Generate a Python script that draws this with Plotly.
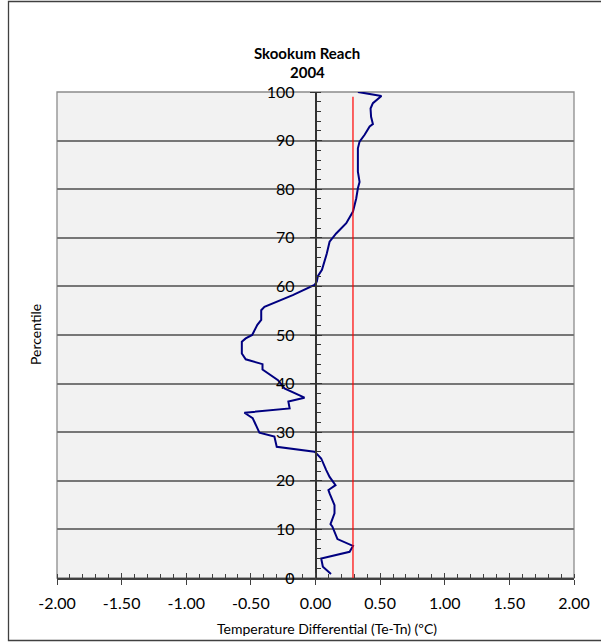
import plotly.graph_objects as go

# Data
percentile = [0.8, 2.3, 4.0, 5.4, 6.6, 8.0, 10.6, 11.1, 13.3, 15.0, 17.4, 18.1, 19.1, 20.8,
              22.2, 23.6, 24.6, 25.7, 26.0, 27.0, 29.1, 29.9, 32.9, 34.0, 34.9, 36.3, 37.1,
              39.0, 40.7, 42.9, 44.0, 45.0, 46.2, 48.6, 49.3, 50.0, 52.1, 53.1, 55.1, 55.8,
              58.2, 60.3, 61.0, 62.1, 63.0, 63.4, 66.8, 69.2, 70.9, 73.0, 75.4, 78.1, 80.2,
              81.5, 83.6, 88.4, 89.8, 91.2, 92.9, 93.4, 94.9, 96.6, 97.7, 99.2, 100.0]
temp_diff = [0.12, 0.057, 0.044, 0.264, 0.29, 0.17, 0.13, 0.116, 0.147, 0.147, 0.109, 0.10,
             0.155, 0.109, 0.083, 0.057, 0.044, 0.005, -0.008, -0.30, -0.318, -0.434, -0.486,
             -0.55, -0.20, -0.21, -0.085, -0.24, -0.29, -0.41, -0.41, -0.54, -0.57, -0.57,
             -0.54, -0.49, -0.45, -0.42, -0.42, -0.395, -0.176, -0.008, 0.01, 0.018, 0.044,
             0.05, 0.088, 0.109, 0.16, 0.238, 0.29, 0.315, 0.328, 0.341, 0.328, 0.328, 0.341,
             0.38, 0.419, 0.444, 0.43, 0.426, 0.444, 0.51, 0.328]
ref_x = [0.29, 0.29]
ref_y = [0, 99]

x_ticks = [-2.0, -1.5, -1.0, -0.5, 0.0, 0.5, 1.0, 1.5, 2.0]
x_ticklabels = ["-2.00", "-1.50", "-1.00", "-0.50", "0.00", "0.50", "1.00", "1.50", "2.00"]
y_ticks = [0, 10, 20, 30, 40, 50, 60, 70, 80, 90, 100]

FONT = "Lato"
L, R, T, B = 57, 27, 92, 66
W, H = 601, 644
PW, PH = W - L - R, H - T - B

def px_x(p):
    return (p - L) / PW

def px_y(p):
    return (H - B - p) / PH

fig = go.Figure()
fig.add_trace(go.Scatter(x=temp_diff, y=percentile, mode="lines",
                         line=dict(color="#000080", width=2), showlegend=False,
                         hoverinfo="skip"))
fig.add_trace(go.Scatter(x=ref_x, y=ref_y, mode="lines",
                         line=dict(color="#ff0000", width=1.2), showlegend=False,
                         hoverinfo="skip"))
# invisible trace on overlay axes so they render
fig.add_trace(go.Scatter(x=[None], y=[None], xaxis="x2", yaxis="y2", showlegend=False))

fig.update_layout(
    width=W, height=H,
    margin=dict(l=L, r=R, t=T, b=B),
    paper_bgcolor="white",
    plot_bgcolor="#f2f2f2",
    font=dict(family=FONT, color="black"),
    xaxis=dict(range=[-2, 2], domain=[0, 1], tickvals=x_ticks, ticktext=x_ticklabels,
               showgrid=False, zeroline=False, showline=True, linecolor="#404040",
               linewidth=1.5, ticks="outside", ticklen=5, tickcolor="#404040",
               tickwidth=1.2, ticklabelstandoff=5,
               tickfont=dict(size=16, family=FONT, color="black"),
               minor=dict(dtick=0.1, tick0=0, ticks="inside", ticklen=4,
                          tickcolor="#404040", showgrid=False),
               anchor="y", fixedrange=True),
    yaxis=dict(range=[0, 100], domain=[0, 1], tickvals=y_ticks,
               showgrid=True, gridcolor="#777777", gridwidth=1.6,
               zeroline=False, showline=True, linecolor="#333333", linewidth=1.5,
               ticks="outside", ticklen=5, tickcolor="#333333", tickwidth=1.2,
               ticklabelstandoff=12,
               tickfont=dict(size=16, family=FONT, color="black"),
               minor=dict(dtick=2, tick0=0, ticks="inside", ticklen=5,
                          tickcolor="#333333", showgrid=False),
               anchor="free", position=0.5, fixedrange=True),
    xaxis2=dict(range=[-2, 2], overlaying="x", tickvals=x_ticks, showticklabels=False,
                showgrid=False, zeroline=False, showline=False, ticks="inside",
                ticklen=5, tickcolor="#404040", tickwidth=1.2, anchor="y", side="bottom"),
    yaxis2=dict(range=[0, 100], overlaying="y", tickvals=y_ticks, showticklabels=False,
                showgrid=False, zeroline=False, showline=False, ticks="inside",
                ticklen=5, tickcolor="#333333", tickwidth=1.2,
                anchor="free", position=0.5),
)

# plot area border (top/left/right)
fig.add_shape(type="rect", xref="paper", yref="paper", x0=0, x1=1, y0=0, y1=1,
              line=dict(color="#8c8c8c", width=1.3), layer="below")
# outer chart border
fig.add_shape(type="rect", xref="paper", yref="paper",
              x0=px_x(8.5), x1=px_x(606), y0=px_y(640.5), y1=px_y(1.5),
              line=dict(color="#404040", width=1.3))

fig.add_annotation(text="<b>Skookum Reach</b>", xref="paper", yref="paper",
                   x=px_x(307), y=px_y(53), xanchor="center", yanchor="middle",
                   showarrow=False, font=dict(size=15, family=FONT, color="black"))
fig.add_annotation(text="<b>2004</b>", xref="paper", yref="paper",
                   x=px_x(307), y=px_y(72), xanchor="center", yanchor="middle",
                   showarrow=False, font=dict(size=15, family=FONT, color="black"))
fig.add_annotation(text="Percentile", xref="paper", yref="paper", x=px_x(35), y=px_y(335),
                   xanchor="center", yanchor="middle",
                   textangle=-90, showarrow=False,
                   font=dict(size=14, family=FONT, color="black"))
fig.add_annotation(text="Temperature Differential (Te-Tn) (ºC)", xref="paper", yref="paper",
                   x=px_x(327), y=px_y(628), xanchor="center", yanchor="middle",
                   showarrow=False, font=dict(size=14, family=FONT, color="black"))

fig.write_html("out.html")
